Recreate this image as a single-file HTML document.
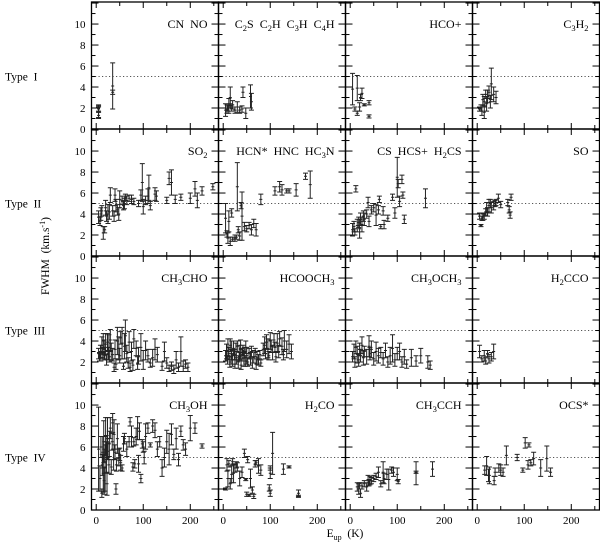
<!DOCTYPE html>
<html><head><meta charset="utf-8">
<style>
body{margin:0;background:#fff;}
svg{display:block;font-family:"Liberation Serif","DejaVu Serif",serif;}
</style></head>
<body>
<svg id="chart" width="600" height="544" viewBox="0 0 600 544"></svg>
<script>
const xTickLabels=["0","100","200"];
const xTickValues=[0,100,200];
const yTickValues=[0,2,4,6,8,10];
const rowLabels=["Type I","Type II","Type III","Type IV"];
const panelTitles=[
 ["CN  NO","C<sub>2</sub>S  C<sub>2</sub>H  C<sub>3</sub>H  C<sub>4</sub>H","HCO+","C<sub>3</sub>H<sub>2</sub>"],
 ["SO<sub>2</sub>","HCN*  HNC  HC<sub>3</sub>N","CS  HCS+  H<sub>2</sub>CS","SO"],
 ["CH<sub>3</sub>CHO","HCOOCH<sub>3</sub>","CH<sub>3</sub>OCH<sub>3</sub>","H<sub>2</sub>CCO"],
 ["CH<sub>3</sub>OH","H<sub>2</sub>CO","CH<sub>3</sub>CCH","OCS*"]];
const thresholdFWHM=5;
// each point: [Eup, FWHM, error]
const cnNo=[[5,2.0,0.3],[5,1.6,0.5],[5,1.3,0.3],[5,1.9,0.3],[35,4.1,2.2],[35,3.5,0.2]];
const ccs=[[5,1.8,0.6],[8,1.9,0.4],[10,2.0,0.3],[12,2.2,0.7],[15,3.0,1.0],[15,2.2,0.2],[18,2.0,0.3],[20,2.3,0.4],[25,1.8,0.3],[30,2.1,0.5],[35,1.8,0.3],[40,1.9,0.3],[42,3.5,0.5],[48,1.5,0.5],[58,3.1,1.1],[60,2.6,0.8]];
const hcop=[[5,3.8,1.5],[10,1.9,0.2],[15,3.9,1.2],[15,1.5,0.2],[20,2.1,0.4],[22,3.0,0.3],[25,3.4,0.5],[30,2.3,0.1],[40,2.5,0.2],[40,1.2,0.15]];
const c3h2=[[5,1.9,0.2],[8,2.0,0.3],[10,1.7,0.4],[12,2.8,0.5],[15,1.6,0.6],[15,2.6,0.5],[18,3.3,0.4],[20,2.4,0.7],[22,3.1,0.6],[25,3.5,0.6],[28,2.6,0.6],[30,4.3,1.5],[35,3.3,0.7],[40,3.0,0.6]];
const so2=[[5,3.7,0.6],[8,3.3,0.4],[10,4.0,0.6],[12,4.3,0.5],[15,2.2,0.6],[18,2.5,0.3],[20,4.6,0.7],[22,3.8,0.5],[25,4.0,0.9],[28,4.2,0.7],[30,5.8,0.7],[35,4.3,0.5],[38,3.8,0.5],[40,5.8,0.6],[42,4.8,0.6],[45,4.4,0.5],[48,4.0,0.6],[50,5.4,0.8],[55,5.3,0.4],[58,4.8,0.4],[60,5.0,0.5],[62,5.6,0.3],[65,5.3,0.4],[70,5.5,0.3],[75,5.4,0.4],[80,5.2,0.3],[90,5.0,0.3],[95,5.8,0.5],[98,7.0,1.8],[100,4.7,0.7],[105,5.3,0.4],[110,5.7,0.7],[112,6.5,1.2],[115,4.8,0.4],[125,5.9,0.6],[128,5.7,0.5],[150,5.3,0.3],[155,7.4,0.6],[160,7.0,1.2],[168,5.4,0.4],[180,5.6,0.3],[200,5.5,0.5],[210,6.4,0.7],[215,5.3,0.7],[225,6.2,0.4],[248,6.6,0.3]];
const hcn=[[5,3.6,1.4],[8,2.1,0.3],[10,1.7,0.5],[12,3.3,1.0],[15,1.4,0.4],[18,4.1,0.4],[20,1.6,0.2],[25,1.7,0.3],[28,1.8,0.2],[30,6.6,2.3],[32,2.5,0.3],[35,1.9,0.4],[38,4.8,0.3],[40,3.8,2.3],[45,2.8,0.4],[50,2.6,0.3],[55,2.9,0.3],[60,2.5,0.5],[65,3.1,0.4],[70,2.5,0.6],[80,5.4,0.5],[110,6.2,0.4],[120,6.6,0.5],[125,6.3,0.5],[135,6.2,0.2],[140,6.2,0.2],[155,6.3,0.6],[175,7.6,0.3],[185,6.8,1.3]];
const cs=[[5,2.5,0.6],[8,2.8,0.5],[10,2.3,0.3],[12,6.4,0.3],[15,2.9,0.6],[18,3.2,0.5],[20,2.6,0.9],[22,3.5,0.6],[25,3.0,0.7],[28,3.8,0.5],[30,3.5,0.6],[35,4.0,0.4],[38,5.1,0.5],[40,3.3,0.5],[45,4.4,0.4],[50,4.6,0.4],[55,3.9,1.0],[60,4.4,0.4],[62,5.4,0.3],[65,2.8,0.2],[70,4.3,0.4],[72,3.0,0.4],[80,3.6,0.3],[90,5.6,0.3],[95,4.1,0.5],[100,7.5,1.9],[102,6.9,0.4],[105,5.2,0.5],[110,7.3,0.4],[112,5.8,0.3],[115,3.5,0.4],[160,5.5,0.9]];
const so=[[5,3.8,0.3],[8,2.9,0.1],[10,3.6,0.2],[12,3.7,0.3],[15,3.8,0.3],[18,4.2,0.3],[20,4.6,0.5],[22,4.2,0.4],[25,4.8,0.6],[28,5.0,0.4],[30,4.6,0.5],[35,4.8,0.4],[38,5.0,0.3],[40,5.1,0.3],[45,5.5,0.4],[50,4.9,0.3],[65,5.1,0.3],[68,4.4,0.3],[70,3.9,0.3],[72,5.6,0.3]];
const ch3cho=[[5,2.8,0.5],[7,2.5,0.4],[9,3.0,0.6],[10,2.4,0.3],[12,3.6,0.8],[14,2.9,0.5],[15,4.0,0.7],[17,3.2,0.9],[18,2.6,0.4],[20,3.7,1.0],[22,2.2,0.5],[24,3.9,0.8],[25,2.8,0.6],[27,3.4,1.2],[28,2.5,0.5],[30,4.1,1.0],[32,3.0,0.8],[35,2.7,0.6],[38,1.5,0.4],[40,3.2,0.9],[42,1.8,0.5],[45,4.0,1.3],[48,3.3,1.1],[50,2.6,0.7],[52,4.3,0.6],[55,3.8,1.5],[58,1.6,0.3],[60,3.5,1.2],[62,4.5,1.5],[65,2.8,0.8],[68,1.9,0.5],[70,3.9,1.0],[72,1.5,0.4],[75,3.0,0.9],[78,1.7,0.5],[80,4.2,0.9],[85,3.3,0.7],[88,1.9,0.6],[90,2.6,0.8],[95,3.4,1.3],[100,2.2,0.9],[105,3.1,0.9],[110,2.6,0.6],[115,1.9,0.4],[120,2.4,0.8],[125,3.2,1.0],[130,2.7,0.7],[140,1.6,0.4],[145,3.0,0.9],[150,1.9,0.5],[155,1.4,0.3],[160,1.6,0.4],[165,1.3,0.4],[170,2.2,0.8],[175,1.5,0.4],[180,3.0,1.4],[185,1.6,0.5],[190,1.8,0.4],[195,1.5,0.4]];
const hcooch3=[[5,2.6,0.5],[7,3.0,0.7],[9,2.2,0.4],[10,3.4,0.8],[12,2.8,0.6],[14,2.0,0.5],[15,3.6,0.6],[17,2.5,0.7],[18,3.1,0.9],[20,2.2,0.6],[22,3.3,0.7],[24,2.7,0.5],[25,1.8,0.4],[27,3.0,0.8],[28,2.4,0.6],[30,3.5,0.5],[32,2.0,0.6],[34,2.9,0.7],[35,2.5,0.4],[37,3.2,0.9],[38,1.7,0.4],[40,2.7,0.6],[42,3.1,0.5],[44,2.3,0.7],[45,2.9,0.5],[47,2.1,0.5],[48,3.4,0.6],[50,2.6,0.8],[52,2.0,0.4],[55,2.8,0.5],[58,2.3,0.6],[60,3.0,0.5],[62,1.9,0.5],[65,2.5,0.6],[68,2.9,0.4],[70,1.8,0.5],[72,2.4,0.6],[75,2.2,0.5],[78,2.7,0.4],[80,1.9,0.3],[85,3.2,0.6],[88,3.6,0.8],[90,2.8,0.5],[92,3.9,0.7],[95,3.3,0.9],[97,2.6,0.4],[100,4.0,0.8],[102,3.5,0.6],[105,2.9,0.7],[108,4.1,0.6],[110,3.4,0.5],[112,2.5,0.5],[115,3.8,0.9],[118,3.0,0.6],[120,4.2,0.7],[125,3.5,0.8],[128,2.7,0.5],[130,4.0,1.0],[135,3.2,0.8],[140,3.7,0.9],[145,3.0,0.7]];
const ch3och3=[[5,2.5,0.5],[8,3.0,0.7],[10,2.0,0.5],[12,3.4,0.6],[15,2.7,0.8],[18,2.2,0.6],[20,3.2,0.6],[22,2.6,0.6],[25,3.6,0.8],[28,2.4,0.7],[30,3.0,0.5],[35,2.5,0.7],[40,3.5,1.0],[42,2.8,0.6],[45,3.2,0.8],[50,2.3,0.6],[55,3.0,0.9],[60,2.6,0.7],[65,2.9,0.5],[70,2.3,0.6],[75,3.1,0.7],[80,2.0,0.5],[85,2.6,0.8],[90,3.3,1.3],[95,2.2,0.6],[100,2.8,0.6],[105,3.0,0.8],[110,2.0,0.5],[115,2.5,0.7],[120,1.8,0.4],[130,2.4,0.8],[140,2.1,0.5],[150,2.6,0.7],[165,2.0,0.6],[170,1.7,0.4]];
const h2cco=[[5,3.0,0.6],[10,2.3,0.3],[15,2.6,0.5],[18,2.1,0.3],[22,2.8,0.3],[25,2.3,0.4],[30,2.5,0.4],[35,3.0,0.7]];
const ch3oh=[[5,5.8,4.0],[8,3.0,1.2],[10,6.0,1.0],[12,1.6,0.4],[13,4.3,1.0],[14,5.5,1.5],[15,3.5,1.8],[16,6.5,2.0],[17,2.8,1.3],[18,5.2,0.6],[19,4.0,2.2],[20,7.0,1.8],[21,6.2,0.9],[22,5.0,1.5],[23,2.5,1.1],[24,6.8,2.0],[25,5.6,0.8],[27,4.3,0.8],[28,6.3,1.2],[30,7.8,1.0],[32,4.1,0.7],[34,6.5,0.8],[35,8.3,0.9],[37,4.8,1.0],[38,7.2,1.4],[40,5.5,0.7],[42,2.0,0.5],[43,4.3,0.6],[45,6.8,1.4],[48,5.0,0.8],[50,5.3,0.6],[52,4.5,0.7],[55,4.0,0.3],[58,6.3,0.7],[60,6.8,0.5],[65,5.8,0.7],[70,6.5,0.5],[72,8.4,0.4],[75,7.0,1.0],[78,4.1,0.4],[80,6.5,0.4],[82,4.4,0.4],[85,7.0,0.8],[88,7.8,1.1],[90,4.4,0.8],[92,7.5,0.8],[95,3.0,0.4],[98,6.3,0.4],[100,6.0,0.5],[102,5.0,0.6],[105,7.0,1.2],[110,7.8,0.5],[115,6.2,0.2],[120,8.0,0.6],[125,7.6,0.7],[130,5.8,0.7],[135,6.5,0.5],[140,4.0,0.8],[145,5.0,0.9],[150,6.5,1.1],[155,5.8,1.5],[160,7.2,1.0],[165,5.3,0.5],[170,6.8,1.0],[175,4.8,0.6],[180,7.5,0.5],[185,6.2,0.5],[190,5.8,0.6],[200,7.8,1.2],[210,7.8,0.5],[225,6.1,0.2]];
const h2co=[[5,2.0,0.1],[8,4.3,0.6],[10,3.0,0.8],[12,4.4,0.3],[15,2.5,0.5],[18,3.4,0.8],[20,4.6,0.3],[22,3.5,0.9],[25,4.0,0.4],[28,4.3,0.3],[30,4.1,0.4],[35,3.0,0.7],[40,3.6,0.5],[45,5.4,0.4],[48,2.9,0.1],[50,1.5,0.2],[52,4.8,0.3],[55,1.4,0.1],[58,3.0,0.9],[62,1.9,0.3],[65,1.3,0.2],[68,4.4,0.3],[70,4.5,0.2],[75,4.2,0.7],[80,3.8,0.5],[98,2.1,0.3],[100,1.6,0.3],[100,3.5,0.5],[100,4.0,0.2],[105,5.4,2.0],[128,3.9,0.5],[140,4.1,0.1],[160,1.6,0.3],[160,1.3,0.1]];
const ch3cch=[[15,2.2,0.4],[18,2.0,0.5],[20,2.3,0.3],[22,1.6,0.4],[25,2.3,0.3],[30,2.5,0.3],[35,2.2,0.4],[38,2.8,0.5],[40,2.6,0.3],[42,2.8,0.4],[45,2.8,0.3],[50,3.0,0.3],[55,3.2,0.3],[60,3.6,0.5],[65,2.5,0.3],[70,3.6,1.0],[72,3.0,0.5],[78,3.4,0.5],[82,2.9,1.0],[88,3.8,0.3],[92,3.6,0.4],[100,3.4,0.6],[102,2.7,0.2],[140,3.6,0.1],[140,3.5,1.1],[175,3.9,0.7]];
const ocs=[[16,3.8,0.4],[20,4.2,0.9],[24,3.3,0.6],[26,3.3,0.8],[36,2.8,0.4],[38,3.6,0.4],[46,4.0,0.4],[50,3.8,0.5],[55,3.6,0.4],[62,5.2,0.9],[85,5.0,0.3],[97,3.8,0.2],[102,6.4,0.5],[108,4.3,0.4],[110,6.2,0.2],[114,4.5,0.3],[120,4.9,0.6],[135,4.0,0.8],[148,4.9,1.2],[156,3.6,0.4]];
const panelData=[[cnNo,ccs,hcop,c3h2],[so2,hcn,cs,so],[ch3cho,hcooch3,ch3och3,h2cco],[ch3oh,h2co,ch3cch,ocs]];

const NS="http://www.w3.org/2000/svg";
const svg=document.getElementById("chart");
const L=91.5,T=2,PW=127,PH=127,XMIN=-10,XMAX=260,YMIN=0,YMAX=12.1;
function mk(tag,attrs,parent){const e=document.createElementNS(NS,tag);for(const k in attrs)e.setAttribute(k,attrs[k]);(parent||svg).appendChild(e);return e;}
function xs(c,v){return L+c*PW+(v-XMIN)/(XMAX-XMIN)*PW;}
function ys(r,v){return T+(r+1)*PH-(v-YMIN)/(YMAX-YMIN)*PH;}
function richText(parent,html){
  const parts=html.split(/(<sub>.*?<\/sub>)/);
  parts.forEach(p=>{if(!p)return;
    const m=p.match(/<sub>(.*?)<\/sub>/);
    if(m){const ts=mk("tspan",{"font-size":"8.5","dy":"3"},parent);ts.textContent=m[1];const bk=mk("tspan",{"dy":"-3"},parent);bk.textContent="\u200b";}
    else{const ts=mk("tspan",{},parent);ts.textContent=p.replace(/ /g,"\u00a0");}
  });
}
for(let r=0;r<4;r++){
  const tl=mk("text",{x:5,y:ys(r,5)+4,"font-size":"11.5",fill:"#000"});
  
  
  tl.textContent=rowLabels[r].replace(/ /g,"\u00a0\u00a0");
  for(let c=0;c<4;c++){
    const g=mk("g",{});
    
    
    const x0=L+c*PW,y0=T+r*PH;
    const dl=mk("line",{x1:x0,x2:x0+PW,y1:ys(r,thresholdFWHM),y2:ys(r,thresholdFWHM),stroke:"#555","stroke-width":1,"stroke-dasharray":"1.2,2.3"},g);
    
    
    for(let v=0;v<=250;v+=50){const X=xs(c,v);const len=v%100===0?6:4;
      mk("line",{x1:X,x2:X,y1:y0+PH,y2:y0+PH-len,stroke:"#000","stroke-width":1},g);
      mk("line",{x1:X,x2:X,y1:y0,y2:y0+len,stroke:"#000","stroke-width":1},g);}
    for(let v=1;v<=12;v++){const Y=ys(r,v);const len=v%2===0?7:4;
      mk("line",{x1:x0,x2:x0+len,y1:Y,y2:Y,stroke:"#000","stroke-width":1},g);
      mk("line",{x1:x0+PW,x2:x0+PW-len,y1:Y,y2:Y,stroke:"#000","stroke-width":1},g);}
    panelData[r][c].forEach(p=>{
      const X=xs(c,p[0]),Y1=ys(r,p[1]-p[2]),Y2=ys(r,p[1]+p[2]),Ym=ys(r,p[1]);
      const e=mk("path",{d:`M${X},${Y1}V${Y2}M${X-2.5},${Y1}h5M${X-2.5},${Y2}h5M${X-1.5},${Ym}h3`,stroke:"#222","stroke-width":1,fill:"none"},g);
      
      
    });
    mk("rect",{x:x0,y:y0,width:PW,height:PH,fill:"none",stroke:"#000","stroke-width":1.3},g);
    const t=mk("text",{x:x0+PW-11,y:y0+ys(0,10)-T+4,"font-size":"12","text-anchor":"end",fill:"#000"},g);
    
    
    richText(t,panelTitles[r][c]);
    if(c===0){yTickValues.forEach(v=>{const yl=mk("text",{x:x0-6,y:ys(r,v)+4,"font-size":"11","text-anchor":"end"},g);
      
      
      yl.textContent=String(v);});}
    if(r===3){xTickValues.forEach((v,i)=>{const xl=mk("text",{x:xs(c,v),y:y0+PH+14,"font-size":"11","text-anchor":"middle"},g);
      
      
      xl.textContent=xTickLabels[i];});}
  }
}
const yt=mk("text",{x:0,y:0,"font-size":"11.5","text-anchor":"middle",transform:"translate(49,256) rotate(-90)"});


yt.innerHTML='FWHM\u00a0\u00a0(km.s<tspan font-size="8" dy="-4">-1</tspan><tspan dy="4">)</tspan>';
const xt=mk("text",{x:345,y:537,"font-size":"11.5","text-anchor":"middle"});


xt.innerHTML='E<tspan font-size="8" dy="3">up</tspan><tspan dy="-3">\u00a0\u00a0(K)</tspan>';
</script>
</body></html>
